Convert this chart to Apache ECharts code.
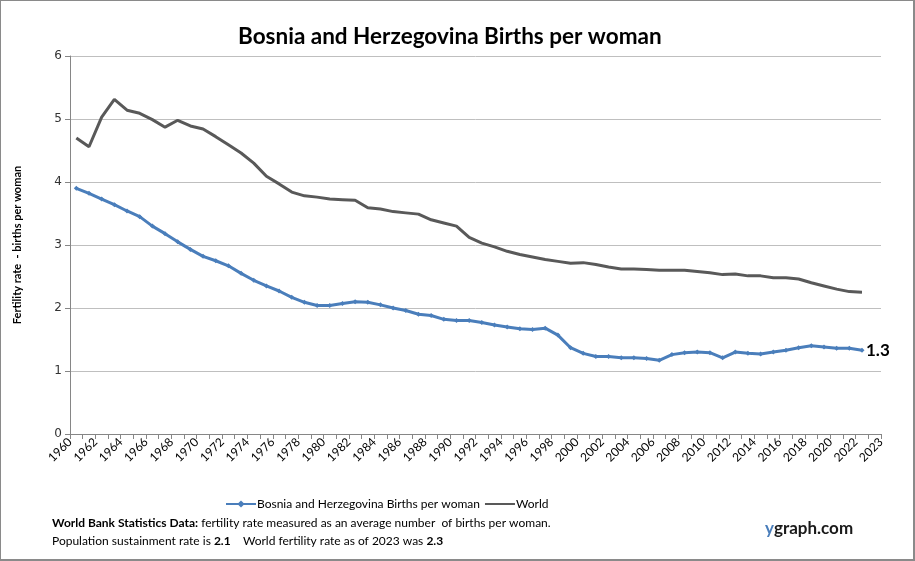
<!DOCTYPE html>
<html>
<head>
<meta charset="utf-8">
<script src="https://cdn.jsdelivr.net/npm/echarts@6/dist/echarts.min.js"></script>
<style>
  html, body { margin: 0; padding: 0; background: #fff; }
  #chart {
    width: 915px;
    height: 561px;
    box-sizing: border-box;
    border: 1px solid #8a8a8a;
    border-right-width: 2px;
    border-bottom-width: 2px;
  }
</style>
</head>
<body>
<div id="chart"></div>
<script>
// years 1960..2023 (category bands), data ends at 2022
const years = []
for (let y = 1960; y <= 2023; y++) years.push(String(y))

const bosnia = [
  3.90, 3.82, 3.73, 3.64, 3.54, 3.45, 3.30, 3.18, 3.05, 2.93,
  2.82, 2.75, 2.67, 2.55, 2.44, 2.35, 2.27, 2.17, 2.09, 2.04,
  2.04, 2.07, 2.10, 2.09, 2.05, 2.00, 1.96, 1.90, 1.88, 1.82,
  1.80, 1.80, 1.77, 1.73, 1.70, 1.67, 1.66, 1.68, 1.57, 1.37,
  1.28, 1.23, 1.23, 1.21, 1.21, 1.20, 1.17, 1.26, 1.29, 1.30,
  1.29, 1.21, 1.30, 1.28, 1.27, 1.30, 1.33, 1.37, 1.40, 1.38,
  1.36, 1.36, 1.33
]

const world = [
  4.70, 4.56, 5.03, 5.31, 5.14, 5.09, 4.99, 4.87, 4.98, 4.89,
  4.84, 4.72, 4.59, 4.46, 4.30, 4.09, 3.97, 3.84, 3.78, 3.76,
  3.73, 3.72, 3.71, 3.59, 3.57, 3.53, 3.51, 3.49, 3.40, 3.35,
  3.30, 3.12, 3.03, 2.97, 2.90, 2.85, 2.81, 2.77, 2.74, 2.71,
  2.72, 2.69, 2.65, 2.62, 2.62, 2.61, 2.60, 2.60, 2.60, 2.58,
  2.56, 2.53, 2.54, 2.51, 2.51, 2.48, 2.48, 2.46, 2.40, 2.35,
  2.30, 2.26, 2.25
]

// x tick labels sit on the band edges: 1960, 1962, ... 2022, then 2023 at the end
const tickStart = 1960
const tickEnd = 2024
const lastTickLabel = '2023'

const seriesNames = ['Bosnia and Herzegovina Births per woman', 'World']

const chart = echarts.init(document.getElementById('chart'))

const font = 'Lato, "Open Sans", sans-serif'

chart.setOption({
  animation: false,
  title: {
    text: 'Bosnia and Herzegovina Births per woman',
    left: 232,
    top: 19,
    textStyle: {
      fontFamily: font,
      fontSize: 22.5,
      fontWeight: 'bold',
      color: '#000'
    }
  },
  grid: {
    left: 69,
    right: 32,
    top: 55,
    bottom: 125
  },
  legend: {
    data: [
      { name: seriesNames[0] },
      { name: seriesNames[1], itemStyle: { opacity: 0 } }
    ],
    left: 219,
    top: 492,
    itemWidth: 30,
    itemHeight: 9,
    itemGap: 4,
    textStyle: {
      fontFamily: font,
      fontSize: 12,
      color: '#000',
      padding: [0, 0, 0, -4]
    }
  },
  xAxis: [
    {
      type: 'category',
      data: years,
      boundaryGap: true,
      axisLine: { show: false },
      axisTick: { show: false },
      axisLabel: { show: false },
      splitLine: { show: false }
    },
    {
      type: 'value',
      min: tickStart,
      max: tickEnd,
      interval: 1,
      position: 'bottom',
      axisLine: { show: true, lineStyle: { color: '#868686', width: 1 } },
      axisTick: { show: true, length: 5, lineStyle: { color: '#868686' } },
      splitLine: { show: false },
      axisLabel: {
        rotate: 45,
        margin: 6,
        fontFamily: font,
        fontSize: 12,
        color: '#000',
        formatter: function (v) {
          if (v === tickEnd) return lastTickLabel
          return v % 2 === 0 ? String(v) : ''
        }
      }
    }
  ],
  yAxis: {
    type: 'value',
    min: 0,
    max: 6,
    interval: 1,
    name: 'Fertility rate  - births per woman',
    nameLocation: 'middle',
    nameRotate: 90,
    nameGap: 47,
    nameTextStyle: {
      fontFamily: font,
      fontSize: 11,
      fontWeight: 'bold',
      color: '#000'
    },
    axisLine: { show: true, lineStyle: { color: '#868686' } },
    axisTick: { show: true, length: 5, lineStyle: { color: '#868686' } },
    axisLabel: {
      fontFamily: '"DejaVu Sans", sans-serif',
      fontSize: 12,
      color: '#333',
      margin: 8
    },
    splitLine: { lineStyle: { color: '#bfbfbf', width: 1 } }
  },
  series: [
    {
      name: seriesNames[0],
      type: 'line',
      xAxisIndex: 0,
      data: bosnia,
      symbol: 'diamond',
      symbolSize: 5,
      lineStyle: { color: '#4a7ebb', width: 3 },
      itemStyle: { color: '#4a7ebb' },
      endLabel: {
        show: true,
        distance: 4,
        fontFamily: font,
        fontSize: 17,
        fontWeight: 'bold',
        color: '#000',
        formatter: function (p) { return p.value.toFixed(1) }
      },
      z: 3
    },
    {
      name: seriesNames[1],
      type: 'line',
      xAxisIndex: 0,
      data: world,
      symbol: 'none',
      lineStyle: { color: '#595959', width: 3 },
      itemStyle: { color: '#595959' },
      z: 2
    }
  ],
  graphic: [
    {
      type: 'text',
      left: 51,
      top: 516,
      style: {
        text: '{b|World Bank Statistics Data:} fertility rate measured as an average number  of births per woman.',
        fontFamily: font,
        fontSize: 12,
        fill: '#000',
        rich: { b: { fontFamily: font, fontSize: 12, fontWeight: 'bold', fill: '#000' } }
      }
    },
    {
      type: 'text',
      left: 51,
      top: 534,
      style: {
        text: 'Population sustainment rate is {b|2.1}    World fertility rate as of 2023 was {b|2.3}',
        fontFamily: font,
        fontSize: 12,
        fill: '#000',
        rich: { b: { fontFamily: font, fontSize: 12, fontWeight: 'bold', fill: '#000' } }
      }
    },
    {
      type: 'text',
      left: 764,
      top: 519,
      style: {
        text: '{y|y}{r|graph.com}',
        rich: {
          y: { fontFamily: font, fontSize: 17, fontWeight: 'bold', fill: '#4a7ebb' },
          r: { fontFamily: font, fontSize: 17, fontWeight: 'bold', fill: '#1a1a1a' }
        }
      }
    }
  ]
})
</script>
</body>
</html>
